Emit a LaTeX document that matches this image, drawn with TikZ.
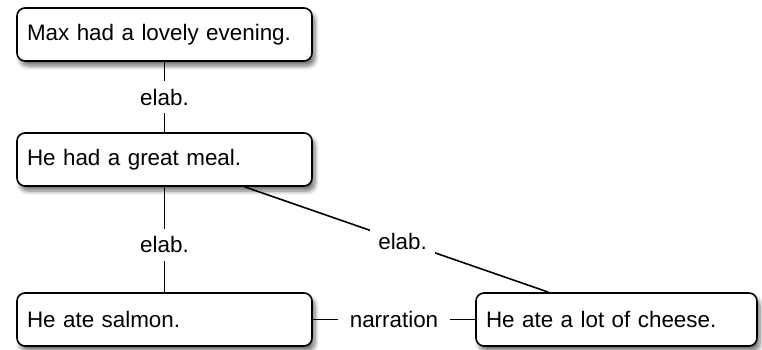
\documentclass[tikz,border=0pt]{standalone}
\usepackage{fontspec}
\setmainfont{Liberation Sans}
\usetikzlibrary{shadows.blur}

\tikzset{
  sentence/.style={draw, line width=0.8pt, rounded corners=4pt, fill=white,
    blur shadow={shadow xshift=1.5pt, shadow yshift=-2.5pt, shadow blur steps=6, shadow opacity=55},
    minimum height=26.5pt, inner sep=5pt, align=left,
    font=\fontsize{11.2}{13}\selectfont},
  rel/.style={fill=white, inner sep=4pt, font=\fontsize{11.2}{13}\selectfont},
  link/.style={line width=0.8pt}
}

\begin{document}
\begin{tikzpicture}[x=0.5pt, y=-0.5pt]
    \useasboundingbox (0,0) rectangle (762,349);

    % Define nodes
    \node[sentence, text width=137.5pt] (max) at (164.5,34.5) {Max had a lovely evening.};
    \node[sentence, text width=137.5pt] (meal) at (164.5,159.5) {He had a great meal.};
    \node[sentence, text width=137.5pt] (salmon) at (164.5,319.5) {He ate salmon.};
    \node[sentence, text width=130.5pt] (cheese) at (616.5,319.5) {He ate a lot of cheese.};

    % Draw relations
    \draw[link] (max) -- node[rel] {elab.} (meal);
    \draw[link] (meal) -- node[rel, pos=0.55] {elab.} (salmon);
    \draw[link] ([xshift=40pt]meal.south) -- node[rel, pos=0.52] {elab.} ([xshift=-34pt]cheese.north);
    \draw[link] (salmon) -- node[rel, inner xsep=6pt] {narration} (cheese);
\end{tikzpicture}
\end{document}
